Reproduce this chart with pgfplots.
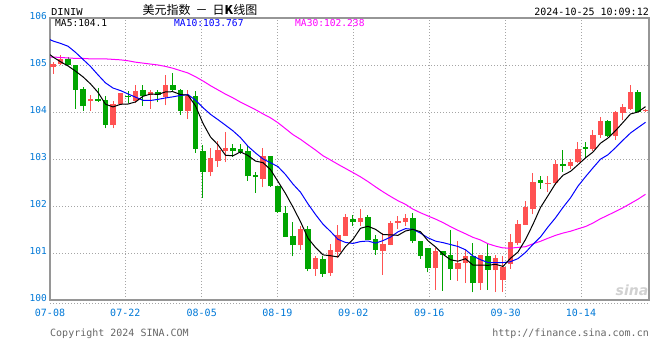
\documentclass[border=0pt]{standalone}
\usepackage{pgfplots}
\pgfplotsset{compat=1.18}
\usepackage{pgfplotstable}
\usepackage{fontspec}
\setmainfont{DejaVu Sans}
\setmonofont{DejaVu Sans Mono}
\newfontfamily\cjk{Noto Sans CJK SC}
\newfontfamily\cour{Liberation Mono}
\definecolor{upred}{RGB}{255,82,82}
\definecolor{dngreen}{RGB}{0,165,0}
\definecolor{ticblue}{RGB}{0,120,215}
\definecolor{gridgray}{RGB}{165,165,165}
\definecolor{framegray}{RGB}{150,150,150}
\definecolor{ma10}{RGB}{0,0,255}
\definecolor{ma30}{RGB}{255,0,255}

\pgfplotstableread{
i o h l c
0 104.95 105.07 104.81 105.03
1 105.02 105.21 104.99 105.13
5 104.23 104.37 104.03 104.28
8 103.73 104.24 103.65 104.18
9 104.16 104.40 104.16 104.40
11 104.24 104.58 104.19 104.45
13 104.36 104.46 104.07 104.42
15 104.31 104.78 104.14 104.58
18 104.03 104.47 103.85 104.35
21 102.72 103.23 102.63 103.02
22 102.95 103.39 102.83 103.20
23 103.18 103.57 102.93 103.24
28 102.58 103.23 102.40 103.07
33 101.16 101.57 101.07 101.52
35 100.67 100.93 100.52 100.89
37 100.57 101.20 100.52 101.07
38 101.03 101.60 100.89 101.39
39 101.37 101.83 101.37 101.76
41 101.67 101.94 101.58 101.74
44 101.05 101.43 100.54 101.20
45 101.18 101.69 101.16 101.64
46 101.64 101.78 101.51 101.69
47 101.66 101.83 101.57 101.74
51 100.68 101.11 100.22 101.04
54 100.66 101.25 100.41 100.79
55 100.79 101.07 100.36 100.94
57 100.36 100.96 100.22 100.96
59 100.63 100.96 100.17 100.90
60 100.43 100.93 100.18 100.71
61 100.76 101.40 100.66 101.23
62 101.21 101.71 101.16 101.62
63 101.60 102.11 101.60 101.97
64 101.94 102.70 101.82 102.52
66 102.47 102.64 102.29 102.49
67 102.48 102.97 102.45 102.90
69 102.86 103.00 102.79 102.93
70 102.93 103.37 102.91 103.21
72 103.22 103.62 103.18 103.52
73 103.52 103.89 103.45 103.80
75 103.48 104.03 103.41 103.99
76 103.98 104.17 103.82 104.10
77 104.07 104.58 104.05 104.42
79 104.02 104.07 104.01 104.05
}\upT

\pgfplotstableread{
i o h l c
2 105.13 105.17 104.99 104.99
3 105.00 105.00 104.07 104.47
4 104.49 104.54 104.03 104.12
6 104.28 104.51 104.21 104.23
7 104.26 104.33 103.65 103.73
10 104.35 104.44 104.19 104.31
12 104.47 104.58 104.13 104.33
14 104.42 104.46 104.21 104.36
16 104.58 104.82 104.45 104.47
17 104.47 104.50 103.94 104.03
19 104.35 104.45 103.13 103.22
20 103.18 103.30 102.17 102.72
24 103.24 103.32 103.05 103.16
25 103.22 103.32 103.11 103.14
26 103.16 103.27 102.54 102.63
27 102.65 102.73 102.28 102.61
29 103.07 103.07 102.40 102.42
30 102.43 102.43 101.85 101.88
31 101.85 102.01 101.35 101.35
32 101.37 101.66 100.93 101.16
34 101.52 101.57 100.61 100.67
36 100.88 100.93 100.50 100.56
40 101.72 101.81 101.57 101.67
42 101.77 101.80 101.28 101.28
43 101.30 101.39 100.96 101.07
48 101.74 101.85 101.21 101.25
49 101.25 101.25 100.88 100.94
50 101.11 101.11 100.59 100.68
52 101.04 101.05 100.20 100.96
53 100.96 101.50 100.43 100.66
56 100.94 101.21 100.16 100.36
58 100.94 101.21 100.22 100.64
65 102.56 102.64 102.37 102.50
68 102.89 103.20 102.72 102.86
71 103.25 103.37 103.03 103.22
74 103.80 103.84 103.46 103.48
78 104.42 104.47 104.00 104.01
}\dnT

\pgfplotstableread{
i m5 m10 m30
-0.4 105.22 105.54 105.17
0 105.17 105.51 105.17
1 105.07 105.46 105.16
2 104.98 105.40 105.15
3 104.87 105.27 105.14
4 104.748 105.12 105.14
5 104.598 104.97 105.13
6 104.418 104.79 105.13
7 104.166 104.62 105.13
8 104.108 104.51 105.12
9 104.164 104.456 105.11
10 104.170 104.384 105.09
11 104.214 104.316 105.06
12 104.334 104.250 105.04
13 104.382 104.245 105.02
14 104.374 104.269 105.00
15 104.428 104.299 104.97
16 104.432 104.323 104.93
17 104.372 104.353 104.88
18 104.358 104.370 104.83
19 104.130 104.252 104.75
20 103.758 104.093 104.66
21 103.468 103.950 104.56
22 103.302 103.837 104.47
23 103.080 103.719 104.38
24 103.068 103.599 104.30
25 103.152 103.455 104.21
26 103.074 103.271 104.13
27 102.956 103.129 104.05
28 102.922 103.001 103.96
29 102.774 102.921 103.876
30 102.522 102.837 103.771
31 102.266 102.670 103.645
32 101.976 102.466 103.518
33 101.666 102.294 103.419
34 101.316 102.045 103.304
35 101.118 101.820 103.191
36 100.960 101.613 103.069
37 100.942 101.459 102.980
38 100.916 101.291 102.887
39 101.134 101.225 102.799
40 101.290 101.204 102.711
41 101.526 101.243 102.621
42 101.568 101.255 102.519
43 101.504 101.210 102.408
44 101.392 101.263 102.302
45 101.386 101.338 102.204
46 101.376 101.451 102.112
47 101.468 101.518 102.035
48 101.504 101.504 101.932
49 101.452 101.422 101.856
50 101.260 101.323 101.788
51 101.130 101.253 101.722
52 100.974 101.221 101.647
53 100.856 101.180 101.561
54 100.826 101.139 101.482
55 100.878 101.069 101.409
56 100.742 100.936 101.333
57 100.742 100.858 101.278
58 100.738 100.797 101.197
59 100.760 100.793 101.147
60 100.714 100.796 101.108
61 100.888 100.815 101.104
62 101.020 100.881 101.119
63 101.286 101.012 101.134
64 101.610 101.185 101.196
65 101.968 101.341 101.249
66 102.220 101.554 101.314
67 102.476 101.748 101.375
68 102.654 101.970 101.424
69 102.736 102.173 101.463
70 102.878 102.423 101.514
71 103.024 102.622 101.563
72 103.148 102.812 101.638
73 103.336 102.995 101.729
74 103.446 103.091 101.805
75 103.602 103.240 101.883
76 103.778 103.401 101.964
77 103.958 103.553 102.053
78 104.000 103.668 102.145
79 104.114 103.780 102.249
}\maT

\begin{document}
\begin{tikzpicture}[x=1bp,y=1bp]
\useasboundingbox (0,0) rectangle (660,360);
\begin{axis}[
  at={(50bp,60bp)}, anchor=south west,
  scale only axis, width=599bp, height=282bp,
  xmin=-0.4, xmax=79.47, ymin=100, ymax=106,
  axis line style={draw=framegray, line width=1.2bp},
  xtick={-0.4,9.64,19.83,29.91,40.04,50.17,60.36,70.4},
  xticklabels={07-08,07-22,08-05,08-19,09-02,09-16,09-30,10-14},
  ytick={100,101,102,103,104,105,106},
  yticklabels={100,101,102,103,104,105,106},
  major tick length=0pt,
  grid=major,
  major grid style={draw=gridgray, line width=0.8bp, dash pattern=on 1bp off 2bp},
  xticklabel style={font=\fontsize{10bp}{12bp}\ttfamily, text=ticblue, anchor=north, inner sep=0pt, yshift=-9bp},
  yticklabel style={font=\fontsize{9.5bp}{11bp}\ttfamily, text=ticblue, anchor=east, inner sep=0pt, xshift=-3bp, yshift=1.5bp},
]
% wicks
\addplot[draw=none, mark=none, forget plot,
  error bars/.cd, y dir=plus, y explicit, error mark=none,
  error bar style={draw=upred, line width=1bp, solid}]
  table[x=i, y=l, y error plus expr=\thisrow{h}-\thisrow{l}] {\upT};
\addplot[draw=none, mark=none, forget plot,
  error bars/.cd, y dir=plus, y explicit, error mark=none,
  error bar style={draw=dngreen, line width=1bp, solid}]
  table[x=i, y=l, y error plus expr=\thisrow{h}-\thisrow{l}] {\dnT};
% bodies
\addplot[draw=none, mark=none, forget plot,
  error bars/.cd, y dir=plus, y explicit, error mark=none,
  error bar style={draw=upred, line width=5.6bp, solid}]
  table[x=i, y=o, y error plus expr=\thisrow{c}-\thisrow{o}] {\upT};
\addplot[draw=none, mark=none, forget plot,
  error bars/.cd, y dir=plus, y explicit, error mark=none,
  error bar style={draw=dngreen, line width=5.6bp, solid}]
  table[x=i, y=c, y error plus expr=\thisrow{o}-\thisrow{c}] {\dnT};
% moving averages
\addplot[ma30, line width=1bp, mark=none] table[x=i, y=m30] {\maT};
\addplot[ma10, line width=1bp, mark=none] table[x=i, y=m10] {\maT};
\addplot[black, line width=1bp, mark=none] table[x=i, y=m5] {\maT};
\end{axis}
\draw[gridgray, line width=0.8bp, dash pattern=on 1bp off 2bp] (50,57) -- (649,57);
\node[anchor=base west, inner sep=0pt] at (51,345) {\cour\fontsize{10.5bp}{12bp}\selectfont DINIW};
\node[anchor=base, inner sep=0pt] at (200,345.5) {\cjk\fontsize{12bp}{14bp}\selectfont 美元指数\hspace{5bp}－\hspace{5bp}日\textbf{K}线图};
\node[anchor=base east, inner sep=0pt] at (649,345) {\fontsize{10bp}{12bp}\ttfamily 2024-10-25 10:09:12};
\node[anchor=base west, inner sep=0pt] at (55,333.5) {\fontsize{9.6bp}{11bp}\ttfamily MA5:104.1};
\node[anchor=base west, inner sep=0pt, text=ma10] at (174,333.5) {\fontsize{9.6bp}{11bp}\ttfamily MA10:103.767};
\node[anchor=base west, inner sep=0pt, text=ma30] at (295,333.5) {\fontsize{9.6bp}{11bp}\ttfamily MA30:102.238};
\node[anchor=base west, inner sep=0pt, text=black!60] at (50,24) {\fontsize{10bp}{12bp}\ttfamily Copyright 2024 SINA.COM};
\node[anchor=base east, inner sep=0pt, text=black!60] at (649,24) {\fontsize{10bp}{12bp}\ttfamily http://finance.sina.com.cn};
\node[anchor=center, inner sep=0pt, text=black!18] at (632,70) {\fontsize{14bp}{14bp}\selectfont\bfseries\itshape sina};
\end{tikzpicture}
\end{document}
